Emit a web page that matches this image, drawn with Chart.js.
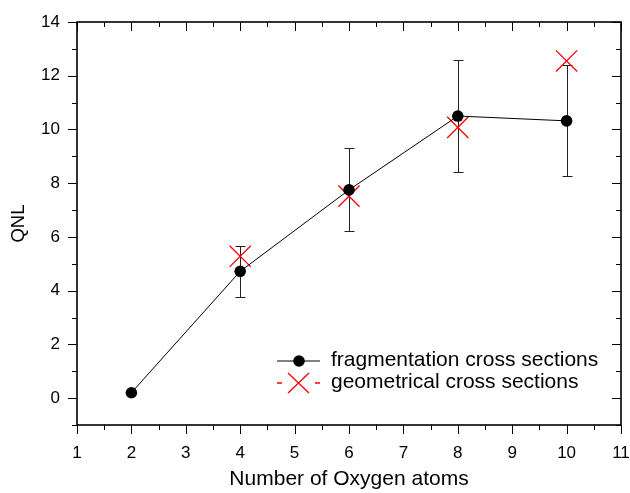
<!DOCTYPE html>
<html>
<head>
<meta charset="utf-8">
<script src="https://cdn.jsdelivr.net/npm/chart.js@4.4.1/dist/chart.umd.min.js"></script>
<style>
  html, body { margin: 0; padding: 0; background: #fff; }
  #wrap { width: 630px; height: 493px; }
</style>
</head>
<body>
<div id="wrap"><canvas id="qnlChart" width="630" height="493"></canvas></div>
<script>
// data
const oxygenAtoms = [2, 4, 6, 8, 10];
const fragQNL = [0.2, 4.72, 7.75, 10.5, 10.32];
const fragErrLow = [0.2, 3.78, 6.22, 8.4, 8.25];
const fragErrHigh = [0.2, 5.65, 9.32, 12.6, 12.4];
const geomAtoms = [4, 6, 8, 10];
const geomQNL = [5.28, 7.52, 10.08, 12.55];

const xTickLabels = ['1', '2', '3', '4', '5', '6', '7', '8', '9', '10', '11'];
const yTickLabels = ['0', '2', '4', '6', '8', '10', '12', '14'];
const legendLabels = ['fragmentation cross sections', 'geometrical cross sections'];

const FONT = 'Arial, "Liberation Sans", sans-serif';

// error bars, drawn under the points
const errorBars = {
    id: 'errorBars',
    beforeDatasetsDraw(chart) {
        const { ctx, scales: { x, y } } = chart;
        ctx.save();
        ctx.strokeStyle = '#222';
        ctx.lineWidth = 1;
        oxygenAtoms.forEach((v, i) => {
            const px = Math.round(x.getPixelForValue(v)) + 0.5;
            const top = Math.round(y.getPixelForValue(fragErrHigh[i])) + 0.5;
            const bot = Math.round(y.getPixelForValue(fragErrLow[i])) + 0.5;
            if (Math.abs(bot - top) < 2) return;
            ctx.beginPath();
            ctx.moveTo(px, top); ctx.lineTo(px, bot);
            ctx.moveTo(px - 5, top); ctx.lineTo(px + 5, top);
            ctx.moveTo(px - 5, bot); ctx.lineTo(px + 5, bot);
            ctx.stroke();
        });
        ctx.restore();
    }
};

// box frame with origin style ticks, plus the legend
const frame = {
    id: 'frame',
    afterDraw(chart) {
        const { ctx, chartArea: a, scales: { x, y } } = chart;
        ctx.save();
        ctx.strokeStyle = '#000';
        ctx.lineWidth = 1.6;
        ctx.strokeRect(a.left, a.top, a.right - a.left, a.bottom - a.top);
        ctx.lineWidth = 1;
        ctx.beginPath();
        for (let v = 1; v <= 11; v += 0.5) {
            const px = Math.round(x.getPixelForValue(v)) + 0.5;
            const len = Number.isInteger(v) ? 9 : 5;
            ctx.moveTo(px, a.bottom); ctx.lineTo(px, a.bottom + len);
            ctx.moveTo(px, a.top); ctx.lineTo(px, a.top + len);
        }
        for (let v = -1; v <= 14; v += 1) {
            const py = Math.round(y.getPixelForValue(v)) + 0.5;
            const len = v % 2 === 0 ? 9 : 5;
            ctx.moveTo(a.left, py); ctx.lineTo(a.left - len, py);
            ctx.moveTo(a.right, py); ctx.lineTo(a.right - len, py);
        }
        ctx.stroke();

        // legend
        const lx = 277, ly = 361, gap = 22;
        ctx.strokeStyle = '#000';
        ctx.beginPath();
        ctx.moveTo(lx, ly); ctx.lineTo(lx + 43, ly);
        ctx.stroke();
        ctx.fillStyle = '#000';
        ctx.beginPath();
        ctx.arc(lx + 22, ly, 5.8, 0, Math.PI * 2);
        ctx.fill();

        ctx.strokeStyle = '#ff0000';
        ctx.lineWidth = 1.3;
        ctx.beginPath();
        ctx.moveTo(lx, ly + gap); ctx.lineTo(lx + 5, ly + gap);
        ctx.moveTo(lx + 38, ly + gap); ctx.lineTo(lx + 43, ly + gap);
        ctx.moveTo(lx + 11, ly + gap - 10); ctx.lineTo(lx + 32, ly + gap + 10);
        ctx.moveTo(lx + 32, ly + gap - 10); ctx.lineTo(lx + 11, ly + gap + 10);
        ctx.stroke();

        ctx.fillStyle = '#000';
        ctx.font = '21px ' + FONT;
        ctx.textBaseline = 'middle';
        ctx.fillText(legendLabels[0], lx + 54, ly - 1);
        ctx.fillText(legendLabels[1], lx + 54, ly + gap - 1);
        ctx.restore();
    }
};

const ctx = document.getElementById('qnlChart').getContext('2d');
const qnlChart = new Chart(ctx, {
    type: 'scatter',
    data: {
        datasets: [{
            label: legendLabels[0],
            data: oxygenAtoms.map((v, i) => ({ x: v, y: fragQNL[i] })),
            showLine: true,
            borderColor: '#000',
            borderWidth: 1,
            backgroundColor: '#000',
            pointRadius: 5.8,
            pointHoverRadius: 5.8,
            pointBorderWidth: 0
        }, {
            label: legendLabels[1],
            data: geomAtoms.map((v, i) => ({ x: v, y: geomQNL[i] })),
            showLine: false,
            borderColor: '#ff0000',
            backgroundColor: '#ff0000',
            pointStyle: 'crossRot',
            pointRadius: 15,
            pointBorderWidth: 1.3
        }]
    },
    options: {
        responsive: false,
        animation: false,
        events: [],
        layout: {
            autoPadding: false,
            padding: { top: 22, right: 9, bottom: 0, left: 0 }
        },
        scales: {
            x: {
                type: 'linear',
                min: 1,
                max: 11,
                afterFit: (s) => { s.height = 68; s.paddingLeft = 0; s.paddingRight = 0; },
                afterBuildTicks: (s) => { s.ticks = xTickLabels.map(t => ({ value: Number(t) })); },
                grid: { display: false, drawTicks: false },
                border: { display: false },
                ticks: {
                    color: '#000',
                    font: { family: FONT, size: 17 },
                    padding: 18,
                    maxRotation: 0,
                    autoSkip: false,
                    callback: (v) => String(v)
                },
                title: {
                    display: true,
                    text: 'Number of Oxygen atoms',
                    color: '#000',
                    font: { family: FONT, size: 21 },
                    padding: { top: 0, bottom: 1 }
                }
            },
            y: {
                type: 'linear',
                min: -1,
                max: 14,
                afterFit: (s) => { s.width = 77; s.paddingTop = 0; s.paddingBottom = 0; },
                afterBuildTicks: (s) => { s.ticks = yTickLabels.map(t => ({ value: Number(t) })); },
                grid: { display: false, drawTicks: false },
                border: { display: false },
                ticks: {
                    color: '#000',
                    font: { family: FONT, size: 17 },
                    padding: 17,
                    autoSkip: false,
                    callback: (v) => String(v)
                },
                title: {
                    display: true,
                    text: 'QNL',
                    color: '#000',
                    font: { family: FONT, size: 18.5 },
                    padding: { top: 8, bottom: 0 }
                }
            }
        },
        plugins: {
            legend: { display: false },
            tooltip: { enabled: false }
        }
    },
    plugins: [errorBars, frame]
});
</script>
</body>
</html>
